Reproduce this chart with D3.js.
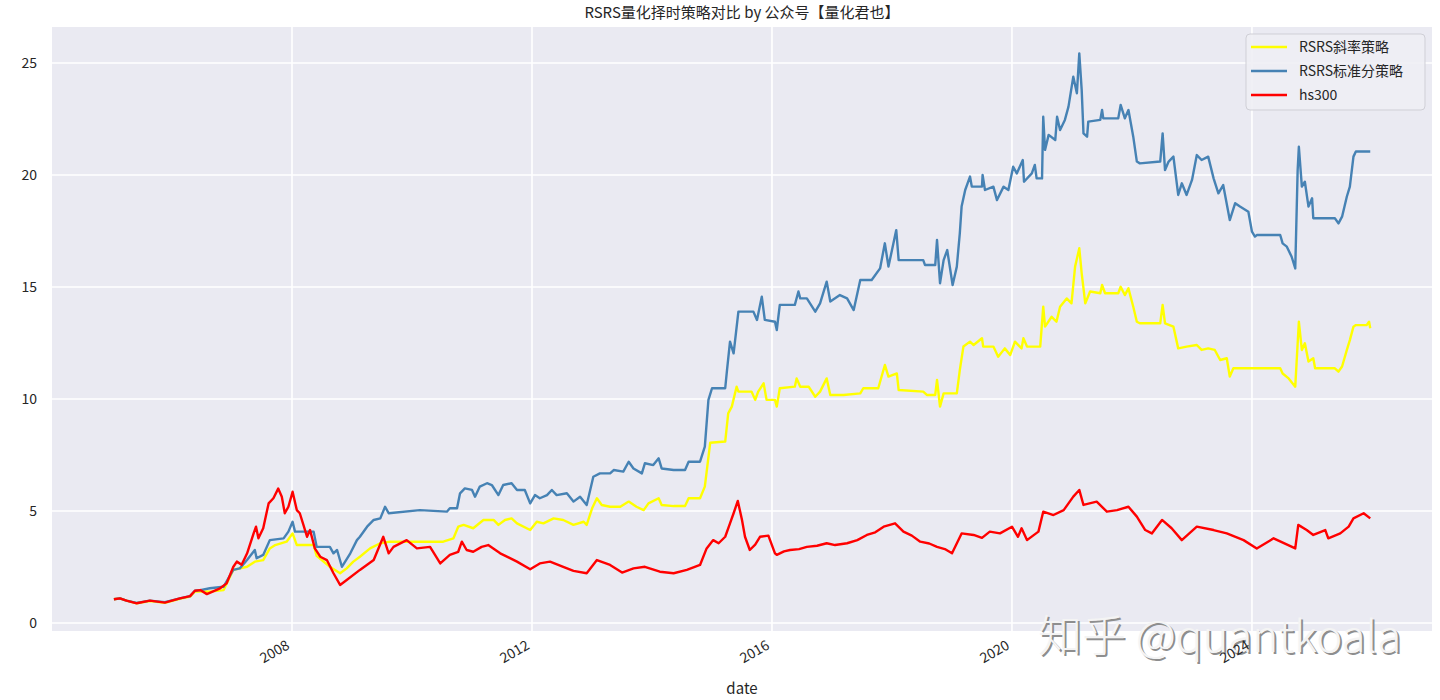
<!DOCTYPE html>
<html><head><meta charset="utf-8">
<script src="https://cdn.jsdelivr.net/npm/d3@7"></script>
<style>
html,body{margin:0;padding:0;background:#fff;}
svg{display:block;}
</style></head>
<body>
<svg id="chart" width="1440" height="700"></svg>
<script>
const titleText = "RSRS量化择时策略对比 by 公众号【量化君也】";
const seriesNames = ["RSRS斜率策略", "RSRS标准分策略", "hs300"];
const seriesColors = ["#FFFF00", "#4682B4", "#FF0000"];
const xTickYears = [2008, 2012, 2016, 2020, 2024];
const yTicks = [0, 5, 10, 15, 20, 25];
const xLabel = "date";
const watermark = "知乎 @quantkoala";

// [decimal year, value]
const slopeStrategy = [
[2005.03,1.06],[2005.13,1.10],[2005.24,1.00],[2005.41,0.88],[2005.63,0.98],[2005.88,0.90],[2006.13,1.08],[2006.30,1.18],[2006.38,1.40],[2006.47,1.42],
[2006.63,1.40],[2006.86,1.47],[2007.02,2.37],[2007.25,2.51],[2007.38,2.74],[2007.52,2.81],[2007.63,3.33],[2007.72,3.48],[2007.91,3.63],[2008.01,4.00],
[2008.08,3.48],[2008.36,3.48],[2008.41,3.00],[2008.63,2.51],[2008.80,2.22],[2008.91,2.44],[2009.02,2.74],[2009.13,2.96],[2009.30,3.33],[2009.47,3.56],
[2009.63,3.63],[2010.52,3.63],[2010.69,3.78],[2010.77,4.30],[2010.86,4.38],[2011.02,4.23],[2011.19,4.60],[2011.36,4.60],[2011.44,4.38],[2011.55,4.60],
[2011.66,4.67],[2011.75,4.45],[2011.97,4.15],[2012.08,4.52],[2012.19,4.45],[2012.36,4.67],[2012.52,4.60],[2012.69,4.38],[2012.86,4.52],[2012.91,4.38],
[2013.00,5.12],[2013.08,5.57],[2013.16,5.27],[2013.30,5.19],[2013.47,5.19],[2013.61,5.42],[2013.74,5.19],[2013.86,5.04],[2013.94,5.34],[2014.11,5.57],
[2014.16,5.27],[2014.36,5.22],[2014.55,5.22],[2014.61,5.57],[2014.80,5.57],[2014.88,6.09],[2014.97,8.05],[2015.22,8.10],[2015.27,9.36],[2015.33,9.66],
[2015.41,10.55],[2015.44,10.33],[2015.66,10.33],[2015.72,9.96],[2015.77,10.33],[2015.86,10.70],[2015.91,9.96],[2016.05,9.96],[2016.08,9.66],[2016.13,10.48],
[2016.38,10.55],[2016.41,10.92],[2016.47,10.55],[2016.61,10.55],[2016.72,10.10],[2016.80,10.33],[2016.91,10.92],[2016.97,10.18],[2017.19,10.18],[2017.47,10.25],
[2017.52,10.48],[2017.77,10.48],[2017.88,11.52],[2017.94,11.00],[2018.08,11.14],[2018.11,10.40],[2018.52,10.33],[2018.58,10.18],[2018.72,10.18],[2018.75,10.85],
[2018.80,9.66],[2018.86,10.25],[2019.08,10.25],[2019.13,11.29],[2019.19,12.34],[2019.30,12.56],[2019.36,12.41],[2019.50,12.71],[2019.52,12.34],[2019.69,12.34],
[2019.77,11.89],[2019.88,12.26],[2019.97,11.96],[2020.05,12.56],[2020.16,12.26],[2020.19,12.71],[2020.25,12.34],[2020.47,12.34],[2020.52,14.12],[2020.55,13.23],
[2020.66,13.67],[2020.74,13.45],[2020.80,14.12],[2020.91,14.49],[2020.99,14.27],[2021.05,15.91],[2021.12,16.73],[2021.16,15.61],[2021.22,14.27],[2021.30,14.80],
[2021.47,14.72],[2021.50,15.09],[2021.55,14.72],[2021.77,14.72],[2021.81,15.01],[2021.88,14.64],[2021.94,14.94],[2022.02,14.12],[2022.08,13.45],[2022.13,13.38],
[2022.47,13.38],[2022.51,14.20],[2022.55,13.38],[2022.69,13.23],[2022.77,12.26],[2022.91,12.34],[2023.08,12.41],[2023.16,12.19],[2023.27,12.26],[2023.38,12.19],
[2023.47,11.74],[2023.58,11.82],[2023.63,11.00],[2023.69,11.37],[2024.47,11.37],[2024.51,11.14],[2024.61,10.92],[2024.72,10.55],[2024.78,13.45],[2024.83,12.19],
[2024.88,12.49],[2024.94,11.67],[2025.02,11.82],[2025.05,11.37],[2025.38,11.37],[2025.44,11.22],[2025.50,11.45],[2025.58,12.19],[2025.63,12.63],[2025.69,13.23],
[2025.73,13.30],[2025.91,13.30],[2025.95,13.45],[2025.97,13.16]
];

const zscoreStrategy = [
[2005.03,1.06],[2005.13,1.10],[2005.24,1.00],[2005.41,0.90],[2005.63,1.00],[2005.88,0.93],[2006.13,1.10],[2006.30,1.20],[2006.38,1.44],[2006.47,1.47],
[2006.63,1.55],[2006.86,1.62],[2007.02,2.37],[2007.13,2.44],[2007.25,2.81],[2007.38,3.26],[2007.41,2.89],[2007.52,3.04],[2007.63,3.70],[2007.86,3.78],
[2007.94,4.08],[2008.01,4.52],[2008.05,4.08],[2008.36,4.08],[2008.41,3.40],[2008.63,3.40],[2008.69,3.11],[2008.75,3.26],[2008.83,2.51],[2008.97,3.11],
[2009.08,3.70],[2009.13,3.85],[2009.25,4.30],[2009.36,4.60],[2009.47,4.67],[2009.55,5.19],[2009.61,4.90],[2010.13,5.04],[2010.58,4.97],[2010.63,5.12],
[2010.75,5.12],[2010.80,5.79],[2010.88,6.01],[2011.00,5.94],[2011.05,5.64],[2011.13,6.09],[2011.25,6.24],[2011.33,6.16],[2011.44,5.71],[2011.52,6.16],
[2011.66,6.24],[2011.75,5.94],[2011.88,5.94],[2011.97,5.34],[2012.05,5.71],[2012.13,5.57],[2012.25,5.71],[2012.33,5.94],[2012.41,5.71],[2012.58,5.79],
[2012.69,5.42],[2012.80,5.64],[2012.91,5.27],[2013.02,6.53],[2013.13,6.68],[2013.30,6.68],[2013.36,6.83],[2013.52,6.76],[2013.61,7.20],[2013.69,6.90],
[2013.83,6.68],[2013.88,7.13],[2014.02,7.05],[2014.11,7.35],[2014.16,6.90],[2014.36,6.83],[2014.55,6.83],[2014.61,7.20],[2014.80,7.20],[2014.88,7.87],
[2014.94,9.96],[2015.00,10.48],[2015.22,10.48],[2015.25,11.29],[2015.30,12.56],[2015.36,12.04],[2015.44,13.90],[2015.69,13.90],[2015.75,13.53],[2015.83,14.57],
[2015.88,13.53],[2016.05,13.45],[2016.08,13.08],[2016.13,14.20],[2016.38,14.20],[2016.44,14.80],[2016.47,14.49],[2016.58,14.49],[2016.72,13.90],[2016.80,14.27],
[2016.91,15.24],[2016.97,14.35],[2017.13,14.64],[2017.25,14.49],[2017.36,13.97],[2017.47,15.31],[2017.66,15.31],[2017.80,15.83],[2017.88,16.95],[2017.94,15.91],
[2018.07,17.54],[2018.11,16.20],[2018.52,16.20],[2018.55,15.98],[2018.72,15.98],[2018.75,17.10],[2018.80,15.17],[2018.86,16.20],[2018.92,16.65],[2019.01,15.09],
[2019.08,15.91],[2019.13,17.40],[2019.16,18.59],[2019.22,19.33],[2019.30,19.93],[2019.33,19.48],[2019.50,19.48],[2019.51,20.00],[2019.55,19.33],[2019.69,19.48],
[2019.75,18.88],[2019.86,19.48],[2019.94,19.33],[2020.02,20.37],[2020.08,20.07],[2020.18,20.67],[2020.20,19.70],[2020.33,20.07],[2020.38,20.45],[2020.41,19.85],
[2020.50,19.85],[2020.52,22.60],[2020.55,21.12],[2020.61,21.79],[2020.72,21.56],[2020.75,22.60],[2020.80,22.01],[2020.88,22.46],[2020.94,23.05],[2021.02,24.39],
[2021.08,23.65],[2021.12,25.43],[2021.16,23.80],[2021.19,21.86],[2021.25,21.71],[2021.27,22.38],[2021.47,22.46],[2021.50,22.90],[2021.52,22.53],[2021.77,22.53],
[2021.81,23.13],[2021.88,22.53],[2021.94,22.90],[2022.02,21.71],[2022.08,20.60],[2022.13,20.52],[2022.47,20.60],[2022.51,21.86],[2022.55,20.22],[2022.61,20.60],
[2022.69,20.82],[2022.77,19.11],[2022.83,19.63],[2022.91,19.11],[2023.00,19.78],[2023.08,20.89],[2023.16,20.67],[2023.27,20.82],[2023.36,19.85],[2023.44,19.18],
[2023.52,19.55],[2023.63,17.99],[2023.72,18.74],[2023.80,18.59],[2023.94,18.36],[2024.00,17.47],[2024.05,17.25],[2024.08,17.32],[2024.47,17.32],[2024.51,16.95],
[2024.58,16.80],[2024.66,16.35],[2024.72,15.83],[2024.76,20.22],[2024.78,21.26],[2024.83,19.48],[2024.88,19.70],[2024.94,18.59],[2025.00,18.96],[2025.02,18.07],
[2025.38,18.07],[2025.44,17.84],[2025.50,18.14],[2025.58,19.04],[2025.63,19.48],[2025.69,20.82],[2025.73,21.05],[2025.97,21.05]
];

const hs300 = [
[2005.03,1.06],[2005.13,1.10],[2005.24,1.00],[2005.41,0.88],[2005.63,1.00],[2005.88,0.91],[2006.13,1.10],[2006.30,1.20],[2006.38,1.44],[2006.47,1.47],
[2006.58,1.29],[2006.80,1.55],[2006.91,1.77],[2007.02,2.50],[2007.08,2.74],[2007.16,2.60],[2007.25,3.10],[2007.36,4.00],[2007.40,4.30],[2007.44,3.78],
[2007.52,4.23],[2007.61,5.34],[2007.69,5.57],[2007.77,6.00],[2007.83,5.64],[2007.88,4.90],[2007.94,5.19],[2008.01,5.86],[2008.08,5.04],[2008.13,4.90],
[2008.19,4.38],[2008.25,3.85],[2008.30,4.15],[2008.38,3.33],[2008.47,2.96],[2008.58,2.81],[2008.69,2.22],[2008.80,1.70],[2008.91,1.92],[2009.13,2.37],
[2009.36,2.81],[2009.52,3.85],[2009.61,3.11],[2009.69,3.40],[2009.91,3.70],[2010.08,3.33],[2010.30,3.40],[2010.47,2.66],[2010.63,3.04],[2010.77,3.18],
[2010.83,3.63],[2010.91,3.26],[2011.02,3.18],[2011.16,3.40],[2011.27,3.48],[2011.47,3.11],[2011.75,2.74],[2011.97,2.40],[2012.13,2.66],[2012.30,2.74],
[2012.52,2.51],[2012.69,2.33],[2012.91,2.22],[2013.08,2.81],[2013.30,2.59],[2013.50,2.25],[2013.69,2.44],[2013.88,2.51],[2014.13,2.29],[2014.36,2.22],
[2014.58,2.37],[2014.80,2.59],[2014.91,3.33],[2015.02,3.70],[2015.11,3.56],[2015.22,3.85],[2015.30,4.45],[2015.36,4.90],[2015.43,5.45],[2015.50,4.60],
[2015.55,3.85],[2015.63,3.26],[2015.72,3.50],[2015.80,3.85],[2015.94,3.90],[2016.05,3.11],[2016.08,3.04],[2016.20,3.20],[2016.30,3.26],[2016.45,3.30],
[2016.58,3.40],[2016.75,3.45],[2016.91,3.56],[2017.05,3.48],[2017.25,3.56],[2017.42,3.70],[2017.58,3.93],[2017.72,4.05],[2017.86,4.30],[2018.05,4.45],
[2018.19,4.08],[2018.33,3.90],[2018.47,3.63],[2018.62,3.55],[2018.75,3.40],[2018.88,3.30],[2019.00,3.11],[2019.16,4.00],[2019.36,3.93],[2019.50,3.80],
[2019.63,4.08],[2019.80,4.00],[2020.00,4.30],[2020.10,3.85],[2020.16,4.23],[2020.25,3.70],[2020.44,4.08],[2020.52,4.97],[2020.69,4.82],[2020.86,5.04],
[2021.02,5.64],[2021.12,5.94],[2021.19,5.27],[2021.41,5.42],[2021.58,4.97],[2021.75,5.04],[2021.94,5.19],[2022.08,4.75],[2022.22,4.15],[2022.33,4.00],
[2022.50,4.60],[2022.66,4.23],[2022.83,3.70],[2023.08,4.30],[2023.36,4.15],[2023.58,4.00],[2023.86,3.70],[2024.08,3.33],[2024.36,3.78],[2024.72,3.33],
[2024.77,4.38],[2024.91,4.15],[2025.02,3.93],[2025.22,4.15],[2025.27,3.78],[2025.47,4.00],[2025.61,4.30],[2025.69,4.67],[2025.86,4.90],[2025.97,4.67]
];

const allSeries = [slopeStrategy, zscoreStrategy, hs300];

function yearToDate(d) {
  const y = Math.floor(d);
  const s = Date.UTC(y, 0, 1), e = Date.UTC(y + 1, 0, 1);
  return new Date(s + (d - y) * (e - s));
}

const svg = d3.select("#chart");
const plot = {left: 52, right: 1432, top: 27, bottom: 631};
const font = "'Noto Sans CJK SC', 'Noto Sans', sans-serif";

const x = d3.scaleUtc().domain([yearToDate(2004.0), yearToDate(2027.0)]).range([plot.left, plot.right]);
const y = d3.scaleLinear().domain([-0.357, 26.607]).range([plot.bottom, plot.top]);

svg.append("rect").attr("x", plot.left).attr("y", plot.top)
  .attr("width", plot.right - plot.left).attr("height", plot.bottom - plot.top)
  .attr("fill", "#EAEAF2");

const g = svg.append("g");
g.selectAll(".gx").data(xTickYears).join("line")
  .attr("x1", d => x(yearToDate(d))).attr("x2", d => x(yearToDate(d)))
  .attr("y1", plot.top).attr("y2", plot.bottom)
  .attr("stroke", "#fff").attr("stroke-width", 1.6);
g.selectAll(".gy").data(yTicks).join("line")
  .attr("x1", plot.left).attr("x2", plot.right)
  .attr("y1", d => y(d)).attr("y2", d => y(d))
  .attr("stroke", "#fff").attr("stroke-width", 1.6);

// watermark (drawn beneath tick labels)
const wm = svg.append("g");
wm.append("text").attr("x", 1040).attr("y", 654)
  .attr("font-family", font).attr("font-size", 44).attr("font-weight", 300)
  .attr("fill", "#8e8e8e").text(watermark);
wm.append("text").attr("x", 1038).attr("y", 652)
  .attr("font-family", font).attr("font-size", 44).attr("font-weight", 300)
  .attr("fill", "#f4f4f4").text(watermark);

const xAxis = d3.axisBottom(x).tickValues(xTickYears.map(yearToDate))
  .tickFormat(d => d3.utcFormat("%Y")(d)).tickSize(0).tickPadding(0);
const xa = svg.append("g").attr("transform", `translate(0,${plot.bottom})`).call(xAxis);
xa.select(".domain").remove();
xa.selectAll("text")
  .attr("font-family", font).attr("font-size", 14).attr("fill", "#262626")
  .attr("text-anchor", "end")
  .attr("dy", 0).attr("y", 0)
  .attr("transform", "translate(-2,17) rotate(-30)");

const yAxis = d3.axisLeft(y).tickValues(yTicks).tickSize(0).tickPadding(15);
const ya = svg.append("g").attr("transform", `translate(${plot.left},0)`).call(yAxis);
ya.select(".domain").remove();
ya.selectAll("text").attr("font-family", font).attr("font-size", 14).attr("fill", "#262626");

const line = d3.line().x(d => x(yearToDate(d[0]))).y(d => y(d[1]));
const lg = svg.append("g");
allSeries.forEach((s, i) => {
  lg.append("path").datum(s).attr("d", line)
    .attr("fill", "none").attr("stroke", seriesColors[i])
    .attr("stroke-width", 2.4).attr("stroke-linejoin", "round");
});

svg.append("text").attr("x", (plot.left + plot.right) / 2).attr("y", 18)
  .attr("text-anchor", "middle").attr("font-family", font)
  .attr("font-size", 15).attr("fill", "#262626").text(titleText);

svg.append("text").attr("x", (plot.left + plot.right) / 2).attr("y", 694)
  .attr("text-anchor", "middle").attr("font-family", font)
  .attr("font-size", 15).attr("fill", "#262626").text(xLabel);

const leg = svg.append("g");
leg.append("rect").attr("x", 1246).attr("y", 34).attr("width", 179).attr("height", 76)
  .attr("rx", 4).attr("fill", "#EEEEF4").attr("fill-opacity", 0.9)
  .attr("stroke", "#cfcfd6").attr("stroke-width", 1);
seriesNames.forEach((n, i) => {
  const cy = 47 + i * 24;
  leg.append("line").attr("x1", 1251).attr("x2", 1287).attr("y1", cy).attr("y2", cy)
    .attr("stroke", seriesColors[i]).attr("stroke-width", 2.4);
  leg.append("text").attr("x", 1299).attr("y", cy + 5)
    .attr("font-family", font).attr("font-size", 14).attr("fill", "#262626").text(n);
});
</script>
</body></html>
